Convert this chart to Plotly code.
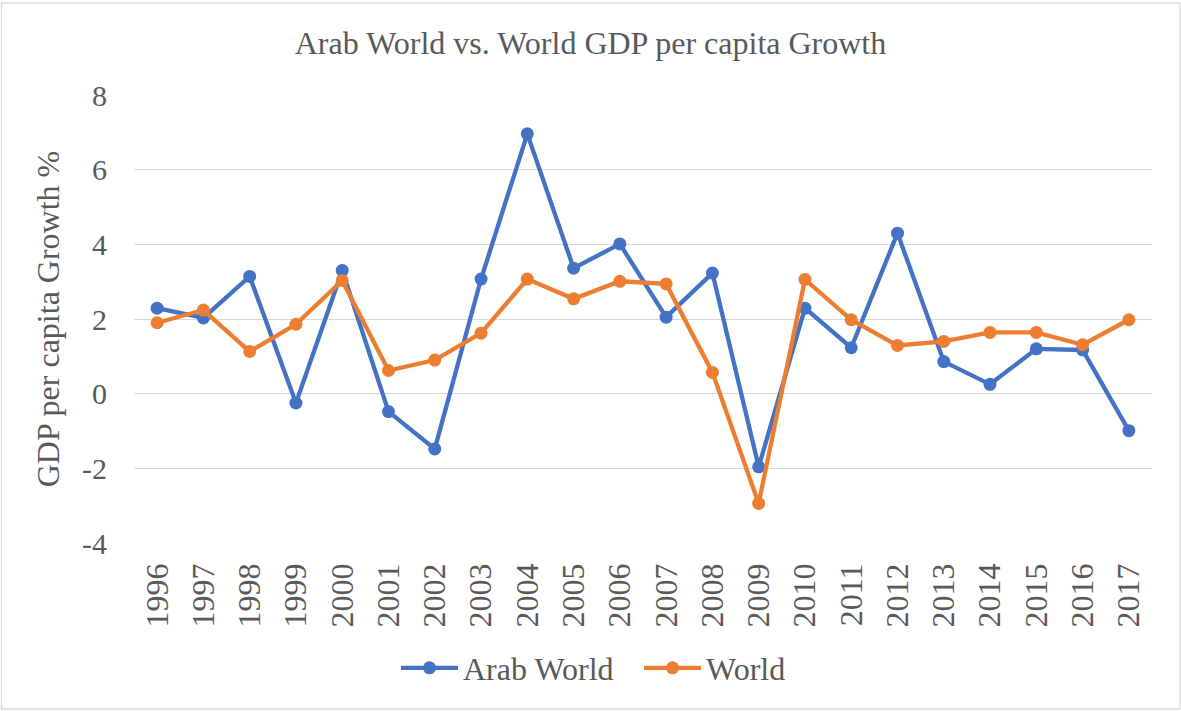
import plotly.graph_objects as go

years = [str(y) for y in range(1996, 2018)]
arab_world = [2.29, 2.03, 3.14, -0.25, 3.30, -0.48, -1.48, 3.07, 6.96, 3.36, 4.01,
              2.05, 3.23, -1.96, 2.29, 1.23, 4.30, 0.86, 0.25, 1.20, 1.17, -0.99]
world = [1.90, 2.24, 1.13, 1.86, 3.03, 0.62, 0.90, 1.62, 3.07, 2.54, 3.01,
         2.94, 0.57, -2.94, 3.06, 1.98, 1.29, 1.40, 1.64, 1.64, 1.31, 1.98]
y_ticks = [-4, -2, 0, 2, 4, 6, 8]
y_tick_text = ["-4", "-2", "0", "2", "4", "6", "8"]

BLUE = "#4472C4"
ORANGE = "#ED7D31"
GRAY = "#595959"
FONT = "Liberation Serif"

fig = go.Figure()
fig.add_trace(go.Scatter(x=years, y=arab_world, name="Arab World", mode="lines+markers",
                         line=dict(color=BLUE, width=4.3), marker=dict(size=13, color=BLUE)))
fig.add_trace(go.Scatter(x=years, y=world, name="World", mode="lines+markers",
                         line=dict(color=ORANGE, width=4.3), marker=dict(size=13, color=ORANGE)))

fig.update_layout(
    width=1181, height=711,
    margin=dict(l=134, r=29, t=95, b=168, autoexpand=False),
    paper_bgcolor="white", plot_bgcolor="white",
    font=dict(family=FONT, color=GRAY),
    title=dict(text="Arab World vs. World GDP per capita Growth", x=0.5, xref="container",
               xanchor="center", y=1 - 43 / 711, yref="container", yanchor="middle",
               font=dict(size=32, family=FONT, color=GRAY)),
    xaxis=dict(type="category", tickangle=-90, tickfont=dict(size=32, family=FONT, color=GRAY),
               tickmode="array", tickvals=years, ticktext=years,
               showgrid=False, showline=False, zeroline=False, ticks="",
               ticklabelstandoff=13, range=[-0.5, len(years) - 0.5], automargin=False),
    yaxis=dict(range=[-4, 8], tickmode="array", tickvals=y_ticks, ticktext=y_tick_text,
               tickfont=dict(size=30, family=FONT, color=GRAY),
               showgrid=True, gridcolor="#D9D9D9", gridwidth=1.3, zeroline=False,
               showline=False, ticks="", ticklabelstandoff=26, automargin=False,
               title=dict(text="GDP per capita Growth %", standoff=12,
                          font=dict(size=32, family=FONT, color=GRAY))),
    legend=dict(orientation="h", x=(396 - 134) / 1018, xref="paper", xanchor="left",
                y=(543 - 668) / 448, yref="paper", yanchor="middle", itemwidth=57,
                entrywidth=171, entrywidthmode="pixels",
                font=dict(size=32, family=FONT, color=GRAY)),
    showlegend=True,
)

fig.add_shape(type="rect", xref="paper", yref="paper",
              x0=(1.5 - 134) / 1018, x1=(1180 - 134) / 1018,
              y0=(543 - 709) / 448, y1=(543 - 3) / 448,
              line=dict(color="#D9D9D9", width=1.3), fillcolor="rgba(0,0,0,0)", layer="below")

fig.write_html("out.html", config={"displayModeBar": False},
               post_script="document.body.style.margin='0';document.body.style.padding='0';"
                           "document.body.style.overflow='hidden';")
